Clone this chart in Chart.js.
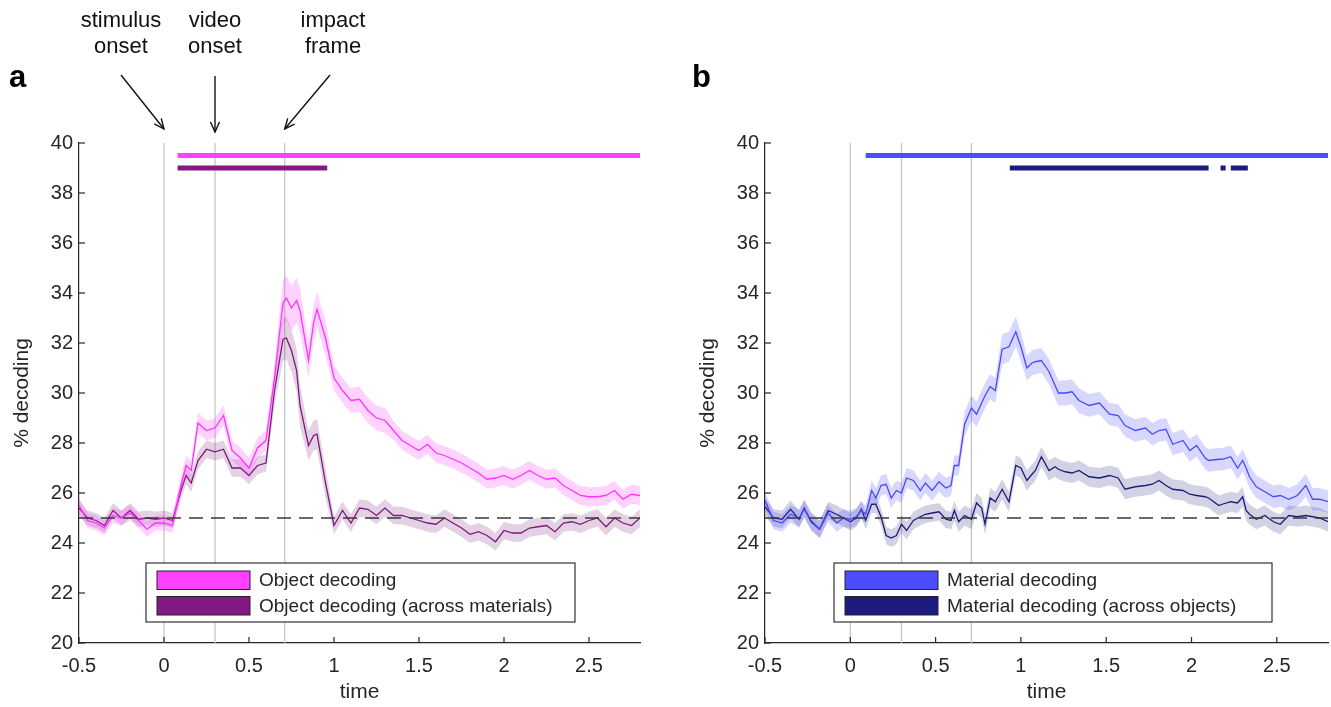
<!DOCTYPE html>
<html><head><meta charset="utf-8">
<script src="https://cdn.jsdelivr.net/npm/chart.js@4.4.1/dist/chart.umd.min.js"></script>
<style>
html,body{margin:0;padding:0;background:#fff;width:1331px;height:707px;overflow:hidden}
canvas{position:absolute;top:0}
#panelA{left:0}
#panelB{left:686px}
</style></head><body>
<canvas id="panelA" width="665" height="707"></canvas>
<canvas id="panelB" width="645" height="707"></canvas>
<script>
// ticks and reference lines
const xTicks = [-0.5,0,0.5,1,1.5,2,2.5];
const yTicks = [20,22,24,26,28,30,32,34,36,38,40];
const eventTimes = [0,0.3,0.71];
const chanceLevel = 25;
const sigLevels = [39.5,39.0];

// panel a: object decoding
const timeA = [-0.5,-0.45,-0.4,-0.35,-0.3,-0.25,-0.2,-0.15,-0.1,-0.05,
  0,0.05,0.1,0.13,0.16,0.2,0.25,0.3,0.35,0.4,
  0.45,0.5,0.55,0.6,0.65,0.7,0.72,0.75,0.78,0.8,
  0.85,0.88,0.9,0.95,1.0,1.05,1.1,1.15,1.2,1.25,
  1.3,1.35,1.4,1.45,1.5,1.55,1.6,1.65,1.7,1.75,
  1.8,1.85,1.9,1.95,2.0,2.05,2.1,2.15,2.2,2.25,
  2.3,2.35,2.4,2.45,2.5,2.55,2.6,2.65,2.7,2.75,
  2.8];
const objectA = [25.5,24.9,24.8,24.6,25.1,25.0,25.2,24.9,24.55,24.8,
  24.8,24.7,26.3,27.1,26.9,28.8,28.5,28.6,29.1,27.7,
  27.4,27.0,27.8,28.1,30.6,33.6,33.8,33.4,33.7,33.3,
  31.3,32.8,33.35,32.2,30.6,30.1,29.7,29.75,29.3,29.0,
  28.9,28.5,28.1,27.9,27.7,27.95,27.6,27.5,27.35,27.2,
  27.0,26.8,26.55,26.6,26.7,26.55,26.7,26.9,26.7,26.55,
  26.6,26.3,26.1,25.9,25.85,25.85,25.9,26.1,25.75,25.95,
  25.9];
const objectSemA = [0.3,0.3,0.3,0.3,0.3,0.3,0.3,0.3,0.3,0.3,
  0.3,0.3,0.4,0.4,0.4,0.4,0.4,0.4,0.4,0.4,
  0.4,0.4,0.4,0.4,0.6,0.9,0.9,0.9,0.9,0.9,
  0.7,0.7,0.7,0.7,0.5,0.5,0.5,0.5,0.5,0.5,
  0.5,0.38,0.38,0.38,0.38,0.38,0.38,0.38,0.38,0.38,
  0.38,0.38,0.38,0.38,0.38,0.38,0.38,0.38,0.38,0.38,
  0.38,0.38,0.38,0.38,0.38,0.38,0.38,0.38,0.38,0.38,
  0.38];
const acrossA = [25.4,25.0,24.9,24.7,25.3,25.0,25.3,24.95,25.0,24.95,
  25.0,24.9,26.1,26.7,26.4,27.3,27.75,27.65,27.75,27.0,
  27.0,26.7,27.1,27.2,30.1,32.15,32.2,31.7,30.9,29.5,
  27.9,28.3,28.35,26.4,24.7,25.3,24.8,25.4,25.35,25.1,
  25.4,25.1,25.1,25.0,24.9,24.8,24.75,25.0,24.8,24.6,
  24.35,24.45,24.3,24.05,24.5,24.4,24.4,24.6,24.65,24.7,
  24.45,24.8,24.85,24.75,24.9,25.0,24.65,25.0,24.8,24.7,
  25.0];
const acrossSemA = [0.3,0.3,0.3,0.3,0.3,0.3,0.3,0.3,0.3,0.3,
  0.3,0.3,0.35,0.35,0.35,0.35,0.35,0.35,0.35,0.35,
  0.35,0.35,0.35,0.35,0.6,0.85,0.85,0.85,0.85,0.85,
  0.6,0.6,0.6,0.6,0.35,0.35,0.35,0.35,0.35,0.35,
  0.35,0.35,0.35,0.35,0.35,0.35,0.35,0.35,0.35,0.35,
  0.35,0.35,0.35,0.35,0.35,0.35,0.35,0.35,0.35,0.35,
  0.35,0.35,0.35,0.35,0.35,0.35,0.35,0.35,0.35,0.35,
  0.35];
const sigObjectA = [[0.08,2.8]];
const sigAcrossA = [[0.08,0.96]];

// panel b: material decoding
const timeB = [-0.5,-0.45,-0.4,-0.35,-0.3,-0.27,-0.23,-0.18,-0.13,-0.08,
  -0.04,0,0.035,0.065,0.09,0.125,0.15,0.18,0.21,0.24,
  0.27,0.3,0.33,0.37,0.41,0.44,0.48,0.52,0.56,0.59,
  0.61,0.635,0.67,0.71,0.74,0.77,0.79,0.82,0.85,0.89,
  0.93,0.97,1.0,1.035,1.065,1.085,1.12,1.165,1.2,1.22,
  1.26,1.3,1.34,1.4,1.46,1.52,1.57,1.61,1.67,1.73,
  1.77,1.81,1.85,1.89,1.95,1.99,2.03,2.08,2.1,2.16,
  2.18,2.23,2.27,2.3,2.32,2.34,2.38,2.43,2.48,2.52,
  2.57,2.62,2.67,2.71,2.75,2.8];
const materialB = [25.7,24.9,24.8,25.15,25.0,25.35,24.9,24.55,25.2,24.8,
  25.0,24.95,25.05,25.3,25.15,26.1,25.8,26.3,26.35,25.8,
  26.1,26.0,26.6,26.5,26.1,26.4,26.1,26.45,26.2,26.3,
  27.1,27.1,28.75,29.4,29.15,29.6,29.9,30.25,30.1,31.75,
  31.85,32.45,31.85,31.0,31.2,31.25,31.3,30.85,30.3,30.0,
  30.0,30.05,29.7,29.5,29.6,29.15,29.1,28.7,28.5,28.6,
  28.35,28.5,28.55,27.95,28.1,27.7,27.9,27.4,27.3,27.35,
  27.35,27.45,27.0,27.3,27.0,26.65,26.25,26.05,25.85,25.9,
  25.75,25.9,26.3,25.75,25.75,25.65];
const materialSemB = [0.35,0.35,0.35,0.35,0.35,0.35,0.35,0.35,0.35,0.35,
  0.35,0.35,0.35,0.35,0.35,0.4,0.4,0.4,0.4,0.4,
  0.4,0.4,0.4,0.4,0.4,0.4,0.4,0.4,0.4,0.4,
  0.4,0.4,0.5,0.5,0.5,0.5,0.5,0.5,0.5,0.6,
  0.6,0.6,0.6,0.5,0.5,0.5,0.5,0.5,0.5,0.5,
  0.5,0.5,0.5,0.45,0.45,0.45,0.45,0.45,0.45,0.45,
  0.45,0.45,0.45,0.45,0.45,0.45,0.45,0.45,0.45,0.45,
  0.45,0.45,0.45,0.45,0.45,0.45,0.45,0.45,0.45,0.45,
  0.45,0.45,0.45,0.45,0.45,0.45];
const acrossB = [25.45,25.0,24.95,25.35,24.95,25.4,24.85,24.55,25.3,25.15,
  25.0,24.85,25.0,25.35,24.9,25.55,25.55,25.05,24.3,24.2,
  24.3,24.75,24.5,24.9,25.05,25.15,25.2,25.25,24.95,24.9,
  25.3,24.85,25.1,24.95,25.6,25.4,24.75,25.8,25.65,26.15,
  25.65,27.1,27.0,26.5,26.75,26.9,27.45,26.9,27.05,26.95,
  26.85,26.8,26.9,26.65,26.6,26.7,26.6,26.15,26.25,26.3,
  26.35,26.5,26.3,26.15,26.1,25.95,25.9,25.85,25.8,25.5,
  25.55,25.65,25.6,25.85,25.3,25.15,24.95,25.1,24.85,24.75,
  25.1,25.05,25.1,25.05,25.0,24.85];
const acrossSemB = [0.35,0.35,0.35,0.35,0.35,0.35,0.35,0.35,0.35,0.35,
  0.35,0.35,0.35,0.35,0.35,0.35,0.35,0.35,0.35,0.35,
  0.35,0.35,0.35,0.35,0.35,0.35,0.35,0.35,0.35,0.35,
  0.4,0.4,0.4,0.4,0.4,0.4,0.4,0.4,0.4,0.4,
  0.4,0.4,0.4,0.4,0.4,0.4,0.4,0.4,0.4,0.4,
  0.4,0.4,0.4,0.4,0.4,0.4,0.4,0.4,0.4,0.4,
  0.4,0.4,0.4,0.4,0.4,0.4,0.4,0.4,0.4,0.4,
  0.4,0.4,0.4,0.4,0.4,0.4,0.4,0.4,0.4,0.4,
  0.4,0.4,0.4,0.4,0.4,0.4];
const sigMaterialB = [[0.09,2.8]];
const sigAcrossB = [[0.935,2.10],[2.17,2.20],[2.23,2.33]];

const FONT = '"Liberation Sans", Arial, Helvetica, sans-serif';
const INK = '#262626';
Chart.defaults.font.family = FONT;
Chart.defaults.color = INK;

const decor = {
  id:'decor',
  beforeDatasetsDraw(chart){
    const {ctx, chartArea:a, scales:{x}} = chart;
    ctx.save();
    ctx.strokeStyle = '#c6c6c6'; ctx.lineWidth = 1.3;
    eventTimes.forEach(t=>{
      const px = x.getPixelForValue(t);
      ctx.beginPath(); ctx.moveTo(px,a.top); ctx.lineTo(px,a.bottom); ctx.stroke();
    });
    ctx.restore();
  },
  afterDatasetsDraw(chart){
    const {ctx, chartArea:a, scales:{y}} = chart;
    const py = y.getPixelForValue(chanceLevel);
    ctx.save();
    ctx.strokeStyle = '#3a3a3a'; ctx.lineWidth = 1.3; ctx.setLineDash([14,8]);
    ctx.beginPath(); ctx.moveTo(a.left,py); ctx.lineTo(a.right,py); ctx.stroke();
    ctx.restore();
  },
  afterDraw(chart, args, o){
    const {ctx, chartArea:a, scales:{x,y}} = chart;
    ctx.save();
    // inward tick marks
    ctx.strokeStyle = INK; ctx.lineWidth = 1.2;
    yTicks.forEach(v=>{const p=y.getPixelForValue(v); ctx.beginPath(); ctx.moveTo(a.left,p); ctx.lineTo(a.left+6,p); ctx.stroke();});
    xTicks.forEach(v=>{const p=x.getPixelForValue(v); ctx.beginPath(); ctx.moveTo(p,a.bottom); ctx.lineTo(p,a.bottom-6); ctx.stroke();});
    // legend
    const L = o.legend;
    ctx.fillStyle = '#fff'; ctx.fillRect(L.x,L.y,L.w,L.h);
    ctx.strokeStyle = '#333'; ctx.lineWidth = 1.2; ctx.strokeRect(L.x,L.y,L.w,L.h);
    ctx.font = '19px '+FONT; ctx.textBaseline = 'middle'; ctx.textAlign = 'left';
    o.entries.forEach((e,i)=>{
      const ry = L.y + 8 + i*25.5;
      ctx.fillStyle = e.color; ctx.fillRect(L.x+11, ry, 93, 18.5);
      ctx.strokeStyle = '#222'; ctx.lineWidth = 1; ctx.strokeRect(L.x+11, ry, 93, 18.5);
      ctx.fillStyle = INK; ctx.fillText(e.label, L.x+113, ry+10);
    });
    // panel letter
    ctx.font = 'bold 31px '+FONT; ctx.fillStyle = '#000'; ctx.textBaseline = 'alphabetic';
    ctx.fillText(o.letter, o.letterX, 87);
    // annotations
    if (o.notes){
      ctx.font = '22px '+FONT; ctx.textAlign = 'center'; ctx.textBaseline = 'middle'; ctx.fillStyle = '#111';
      o.notes.forEach(n=>{
        ctx.fillText(n.text[0], n.x, 21); ctx.fillText(n.text[1], n.x, 47);
        const ax = n.from[0], ay = n.from[1];
        const bx = x.getPixelForValue(n.t), by = n.tipY;
        ctx.strokeStyle = '#111'; ctx.lineWidth = 1.4;
        ctx.beginPath(); ctx.moveTo(ax,ay); ctx.lineTo(bx,by); ctx.stroke();
        const ang = Math.atan2(by-ay,bx-ax), hl = 11, hw = 0.42;
        ctx.beginPath();
        ctx.moveTo(bx-hl*Math.cos(ang-hw), by-hl*Math.sin(ang-hw));
        ctx.lineTo(bx,by);
        ctx.lineTo(bx-hl*Math.cos(ang+hw), by-hl*Math.sin(ang+hw));
        ctx.stroke();
      });
    }
    ctx.restore();
  }
};

function makePanel(id, p){
  const datasets = [];
  p.series.forEach(s=>{
    datasets.push({data:p.time.map((t,i)=>({x:t,y:s.values[i]-s.sem[i]})), borderWidth:0, pointRadius:0, fill:false});
    datasets.push({data:p.time.map((t,i)=>({x:t,y:s.values[i]+s.sem[i]})), borderWidth:0, pointRadius:0, fill:'-1', backgroundColor:s.band});
    datasets.push({label:s.label, data:p.time.map((t,i)=>({x:t,y:s.values[i]})), borderColor:s.color, borderWidth:1.3, pointRadius:0, fill:false});
  });
  p.series.forEach((s,k)=>{
    s.sig.forEach(seg=>{
      datasets.push({data:[{x:seg[0],y:sigLevels[k]},{x:seg[1],y:sigLevels[k]}], borderColor:s.patch, borderWidth:5, borderCapStyle:'butt', pointRadius:0, fill:false});
    });
  });
  new Chart(document.getElementById(id).getContext('2d'), {
    type:'line',
    data:{datasets},
    options:{
      responsive:false, animation:false,
      layout:{padding:{top:143,right:p.rightPad,left:0,bottom:0}},
      plugins:{legend:{display:false}, tooltip:{enabled:false},
        decor:{legend:p.legend, entries:p.series.map(s=>({label:s.label,color:s.patch})), letter:p.letter, letterX:p.letterX, notes:p.notes}},
      scales:{
        x:{type:'linear', min:-0.5, max:2.8,
          afterBuildTicks:s=>{s.ticks = xTicks.map(v=>({value:v}));},
          afterFit:s=>{s.height = 64;},
          grid:{display:false, drawTicks:false},
          border:{display:true, color:INK, width:1.2},
          ticks:{font:{size:20}, color:INK, padding:11, maxRotation:0, callback:v=>String(v)},
          title:{display:true, text:'time', font:{size:21}, color:INK, padding:{top:0,bottom:2}}},
        y:{min:20, max:40,
          afterBuildTicks:s=>{s.ticks = yTicks.map(v=>({value:v}));},
          afterFit:s=>{s.width = 79;},
          grid:{display:false, drawTicks:false},
          border:{display:true, color:INK, width:1.2},
          ticks:{font:{size:20}, color:INK, padding:6},
          title:{display:true, text:'% decoding', font:{size:21}, color:INK, padding:{top:10,bottom:0}}}
      }
    },
    plugins:[decor]
  });
}

makePanel('panelA', {
  time:timeA, rightPad:25, letter:'a', letterX:9,
  legend:{x:146,y:563,w:429,h:59},
  series:[
    {label:'Object decoding', values:objectA, sem:objectSemA, color:'#ff33ff', band:'rgba(255,51,255,0.22)', patch:'#ff40ff', sig:sigObjectA},
    {label:'Object decoding (across materials)', values:acrossA, sem:acrossSemA, color:'#7a1a7a', band:'rgba(122,26,122,0.2)', patch:'#821a82', sig:sigAcrossA}
  ],
  notes:[
    {text:['stimulus','onset'], x:121, from:[121,75], t:0, tipY:129},
    {text:['video','onset'], x:215, from:[215,76], t:0.3, tipY:132},
    {text:['impact','frame'], x:333, from:[330,75], t:0.71, tipY:129}
  ]
});
makePanel('panelB', {
  time:timeB, rightPad:3, letter:'b', letterX:6,
  legend:{x:148,y:563,w:438,h:59},
  series:[
    {label:'Material decoding', values:materialB, sem:materialSemB, color:'#4a4aff', band:'rgba(74,74,255,0.22)', patch:'#4d4dff', sig:sigMaterialB},
    {label:'Material decoding (across objects)', values:acrossB, sem:acrossSemB, color:'#1c1c78', band:'rgba(28,28,120,0.2)', patch:'#1b1b80', sig:sigAcrossB}
  ]
});
</script>
</body></html>
